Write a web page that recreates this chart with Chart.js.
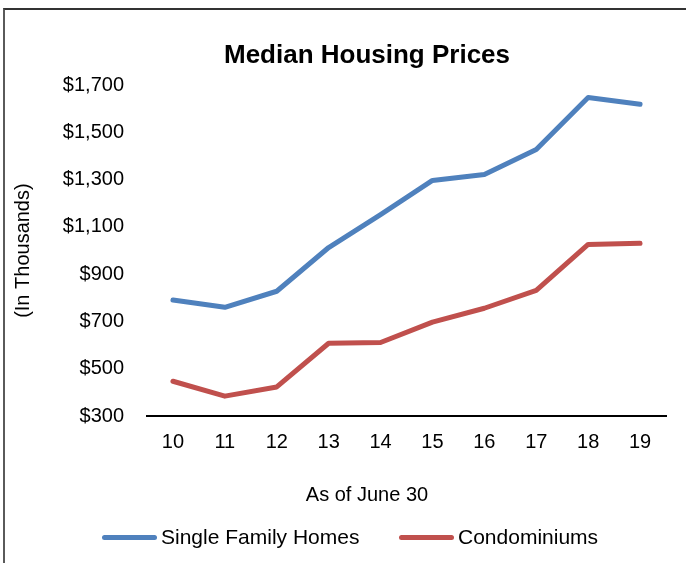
<!DOCTYPE html>
<html>
<head>
<meta charset="utf-8">
<script src="https://cdn.jsdelivr.net/npm/chart.js@4.4.1/dist/chart.umd.min.js"></script>
<style>
  html, body { margin: 0; padding: 0; background: #fff; overflow: hidden; width: 686px; height: 563px; }
  #wrap { position: relative; width: 686px; height: 563px; overflow: hidden; }
  #frame { position: absolute; left: 3px; top: 8px; width: 720px; height: 600px; border-left: 2px solid #5a5a5a; border-top: 2px solid #333; pointer-events: none; }
  canvas { position: absolute; left: 0; top: 0; }
  #legend { position: absolute; top: 523px; left: 0; height: 28px; font: 21px 'Liberation Sans', Arial, sans-serif; color: #000; }
  .item { position: absolute; top: 0; display: flex; align-items: center; height: 28px; white-space: nowrap; }
  .swatch { width: 55px; height: 5px; border-radius: 3px; margin-right: 4px; }
</style>
</head>
<body>
<div id="wrap">
  <canvas id="chart" width="734" height="563"></canvas>
  <div id="frame"></div>
  <div id="legend"></div>
</div>
<script>
const years = ['10', '11', '12', '13', '14', '15', '16', '17', '18', '19'];
const singleFamily = [791, 760, 828, 1013, 1152, 1297, 1322, 1428, 1648, 1619];
const condos = [447, 384, 423, 608, 611, 697, 756, 832, 1026, 1031];
const seriesNames = ['Single Family Homes', 'Condominiums'];
const seriesColors = ['#4F81BD', '#C0504D'];
const legendLeft = [102, 399];

const FONT = "'Liberation Sans', Arial, sans-serif";

function money(v) {
  return '$' + v.toLocaleString('en-US');
}

const lineStyle = { fill: false, tension: 0, pointRadius: 0, pointHoverRadius: 0, borderWidth: 5, borderCapStyle: 'round', borderJoinStyle: 'round' };

new Chart(document.getElementById('chart'), {
  type: 'line',
  data: {
    labels: years,
    datasets: [
      { label: seriesNames[0], data: singleFamily, borderColor: seriesColors[0], backgroundColor: seriesColors[0], ...lineStyle },
      { label: seriesNames[1], data: condos, borderColor: seriesColors[1], backgroundColor: seriesColors[1], ...lineStyle },
    ]
  },
  options: {
    responsive: false, animation: false,
    layout: { padding: 0 },
    plugins: {
      legend: { display: false },
      tooltip: { enabled: false },
      title: { display: true, text: 'Median Housing Prices', color: '#000', font: { family: FONT, size: 26, weight: 'bold' }, padding: { top: 40, bottom: 14 } },
      subtitle: { display: true, position: 'bottom', text: 'As of June 30', color: '#000', font: { family: FONT, size: 20 }, padding: { top: 7, bottom: 56 } },
    },
    scales: {
      x: {
        offset: true,
        grid: { display: false, drawTicks: false },
        border: { display: true, color: '#000', width: 2 },
        ticks: { color: '#000', font: { family: FONT, size: 20 }, padding: 14, maxRotation: 0 },
        afterFit(s) { s.height = 60; }
      },
      y: {
        min: 300, max: 1700,
        grid: { display: false, drawTicks: false },
        border: { display: false },
        ticks: { stepSize: 200, color: '#000', font: { family: FONT, size: 20 }, padding: 23, callback: v => money(v) },
        title: { display: true, text: '(In Thousands)', color: '#000', font: { family: FONT, size: 20 }, padding: { top: 11, bottom: 0 } },
        afterFit(s) { s.width = 147; }
      },
      yRight: {
        type: 'linear', position: 'right', display: true,
        grid: { display: false, drawTicks: false },
        border: { display: false },
        ticks: { display: false },
        afterFit(s) { s.width = 68; }
      }
    }
  }
});

const legend = document.getElementById('legend');
seriesNames.forEach((name, i) => {
  const item = document.createElement('div');
  item.className = 'item';
  item.style.left = legendLeft[i] + 'px';
  const sw = document.createElement('span');
  sw.className = 'swatch';
  sw.style.background = seriesColors[i];
  const txt = document.createElement('span');
  txt.textContent = name;
  item.appendChild(sw);
  item.appendChild(txt);
  legend.appendChild(item);
});
</script>
</body>
</html>
